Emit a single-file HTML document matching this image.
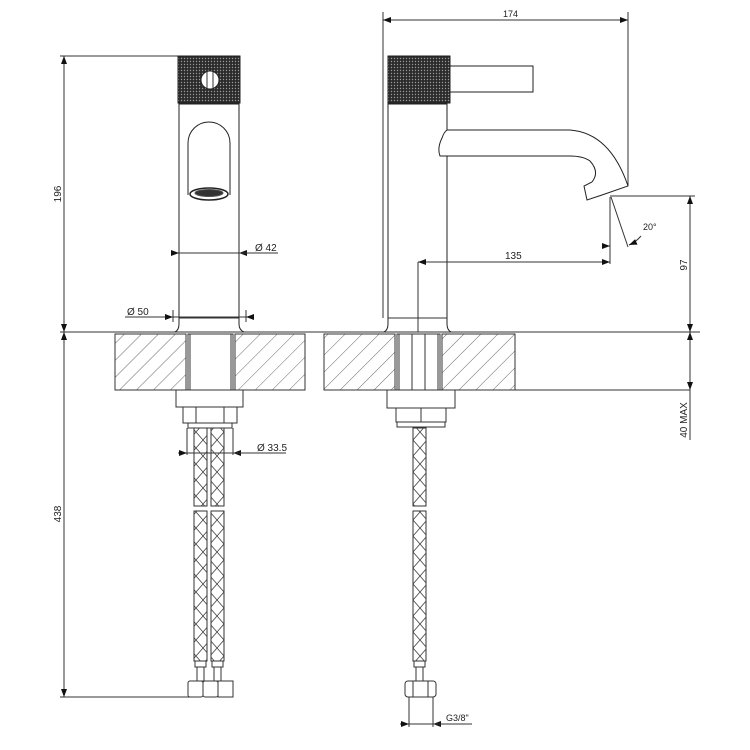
<!DOCTYPE html>
<html><head><meta charset="utf-8"><style>html,body{margin:0;padding:0;background:#fff}svg{display:block}text{font-family:"Liberation Sans",sans-serif;font-size:10px;fill:#222}</style></head><body>
<svg width="750" height="750" viewBox="0 0 750 750" xmlns="http://www.w3.org/2000/svg">
<defs>
<pattern id="knurl" width="3" height="3" patternUnits="userSpaceOnUse"><rect width="3" height="3" fill="#2a2a2a"/><circle cx="1.5" cy="1.5" r="0.7" fill="#9a9a9a"/></pattern>
<pattern id="hatch" width="12" height="12" patternUnits="userSpaceOnUse" patternTransform="rotate(45)"><line x1="0" y1="0" x2="0" y2="12" stroke="#444" stroke-width="0.8"/></pattern>
<pattern id="braid" width="14" height="16" patternUnits="userSpaceOnUse"><path d="M0 0L14 16M14 0L0 16" stroke="#444" stroke-width="0.8" fill="none"/></pattern>
<marker id="ar" markerWidth="8" markerHeight="6" refX="8" refY="3" orient="auto-start-reverse" markerUnits="userSpaceOnUse"><path d="M0 0L8 3L0 6z" fill="#111"/></marker>
</defs>
<g stroke="#333" stroke-width="1" fill="none">
<line x1="60" y1="56" x2="178" y2="56"/>
<line x1="60" y1="697" x2="190" y2="697"/>
<line x1="64" y1="56" x2="64" y2="332" marker-start="url(#ar)" marker-end="url(#ar)"/>
<line x1="64" y1="332" x2="64" y2="697" marker-start="url(#ar)" marker-end="url(#ar)"/>
<line x1="60" y1="332" x2="700" y2="332"/>
<rect x="178" y="56" width="62" height="47" fill="url(#knurl)" stroke="#222"/>
<circle cx="210" cy="80" r="9" fill="#fff" stroke="#222"/>
<line x1="207" y1="72" x2="207" y2="88"/><line x1="213" y1="72" x2="213" y2="88"/>
<rect x="179" y="104" width="60" height="214" stroke="#222"/>
<path d="M188 195 V143 A21 21 0 0 1 230 143 V195" stroke="#222"/>
<ellipse cx="209" cy="194" rx="19" ry="6" fill="#fff" stroke="#222" stroke-width="1.5"/>
<ellipse cx="209" cy="193" rx="14" ry="3.5" fill="#333" stroke="#555"/>
<path d="M179 318 V324 Q179 330 175 332 M239 318 V324 Q239 330 244 332" stroke="#222"/>
<line x1="179" y1="318" x2="239" y2="318"/>
<line x1="172" y1="253" x2="179" y2="253" marker-end="url(#ar)"/>
<line x1="179" y1="253" x2="239" y2="253"/>
<line x1="246" y1="253" x2="239" y2="253" marker-end="url(#ar)"/>
<line x1="239" y1="253" x2="278" y2="253"/>
<line x1="125" y1="317" x2="173" y2="317" marker-end="url(#ar)"/>
<line x1="173" y1="317" x2="246" y2="317"/>
<line x1="252" y1="317" x2="246" y2="317" marker-end="url(#ar)"/>
<line x1="173" y1="310" x2="173" y2="322"/><line x1="246" y1="310" x2="246" y2="322"/>
<path d="M115 334 H186 V390 H115 Z M235 334 H305 V390 H235 Z" fill="url(#hatch)" stroke="#333"/>
<path d="M324 334 H395 V390 H324 Z M442 334 H515 V390 H442 Z" fill="url(#hatch)" stroke="#333"/>
<rect x="188" y="334" width="45" height="56" fill="#fff"/>
<line x1="190" y1="334" x2="190" y2="390"/><line x1="231" y1="334" x2="231" y2="390"/>
<rect x="397" y="334" width="43" height="56" fill="#fff"/>
<line x1="399" y1="334" x2="399" y2="390"/><line x1="438" y1="334" x2="438" y2="390"/>
<line x1="412" y1="334" x2="412" y2="390"/><line x1="425" y1="334" x2="425" y2="390"/>
<line x1="515" y1="390" x2="690" y2="390"/>
<rect x="176" y="390" width="67" height="17"/>
<rect x="183" y="407" width="54" height="16"/>
<line x1="196" y1="407" x2="196" y2="423"/><line x1="224" y1="407" x2="224" y2="423"/>
<rect x="188" y="423" width="44" height="5"/>
<line x1="187" y1="428" x2="187" y2="455"/><line x1="233" y1="428" x2="233" y2="455"/>
<line x1="178" y1="453" x2="187" y2="453" marker-end="url(#ar)"/>
<line x1="187" y1="453" x2="233" y2="453"/>
<line x1="242" y1="453" x2="233" y2="453" marker-end="url(#ar)"/>
<line x1="233" y1="453" x2="286" y2="453"/>
<rect x="194" y="428" width="13" height="78" fill="url(#braid)"/>
<rect x="211" y="428" width="13" height="78" fill="url(#braid)"/>
<rect x="194" y="511" width="13" height="150" fill="url(#braid)"/>
<rect x="211" y="511" width="13" height="150" fill="url(#braid)"/>
<rect x="195" y="661" width="11" height="6"/><rect x="212" y="661" width="11" height="6"/>
<rect x="197" y="667" width="7" height="14"/><rect x="214" y="667" width="7" height="14"/>
<rect x="188" y="681" width="15" height="16" rx="2"/><rect x="203" y="681" width="15" height="16" rx="2"/><rect x="218" y="681" width="15" height="16"/>
<line x1="383" y1="12" x2="383" y2="318"/>
<line x1="628" y1="12" x2="628" y2="186"/>
<line x1="383" y1="20" x2="628" y2="20" marker-start="url(#ar)" marker-end="url(#ar)"/>
<rect x="388" y="56" width="62" height="47" fill="url(#knurl)" stroke="#222"/>
<path d="M450 66 H533 V92 H450" stroke="#222"/>
<rect x="388" y="104" width="59" height="214" stroke="#222"/>
<path d="M388 318 V324 Q388 330 384 332 M447 318 V324 Q447 330 451 332" stroke="#222"/>
<line x1="388" y1="318" x2="447" y2="318"/>
<path d="M447 130 H570 Q610 133 628 186 L602 195 L587 200 L584 186 L592 182 Q600 172 590 161 Q583 156 570 156 H440 Q437 148 442 138 Q444 132 447 130" fill="#fff" stroke="#222"/>
<line x1="418" y1="262" x2="418" y2="332"/>
<line x1="418" y1="262" x2="610" y2="262" marker-start="url(#ar)" marker-end="url(#ar)"/>
<line x1="610" y1="197" x2="610" y2="264"/>
<line x1="602" y1="246" x2="610" y2="246" marker-end="url(#ar)"/>
<line x1="611" y1="197" x2="628" y2="247"/>
<path d="M641 236 Q636 242 629 245" marker-end="url(#ar)"/>
<line x1="610" y1="196" x2="695" y2="196"/>
<line x1="690" y1="196" x2="690" y2="332" marker-start="url(#ar)" marker-end="url(#ar)"/>
<line x1="690" y1="332" x2="690" y2="390" marker-start="url(#ar)" marker-end="url(#ar)"/>
<line x1="690" y1="390" x2="690" y2="440"/>
<rect x="387" y="390" width="68" height="18"/>
<rect x="396" y="408" width="50" height="14"/>
<line x1="421" y1="408" x2="421" y2="422"/>
<rect x="397" y="422" width="48" height="5"/>
<rect x="413" y="428" width="13" height="78" fill="url(#braid)"/>
<rect x="413" y="511" width="13" height="150" fill="url(#braid)"/>
<rect x="414" y="661" width="11" height="6"/><rect x="416" y="667" width="7" height="14"/>
<rect x="405" y="681" width="31" height="16" rx="3"/>
<line x1="413" y1="681" x2="413" y2="697"/><line x1="428" y1="681" x2="428" y2="697"/>
<line x1="409" y1="697" x2="409" y2="727"/><line x1="433" y1="697" x2="433" y2="727"/>
<line x1="400" y1="724" x2="409" y2="724" marker-end="url(#ar)"/>
<line x1="409" y1="724" x2="433" y2="724"/>
<line x1="442" y1="724" x2="433" y2="724" marker-end="url(#ar)"/>
<line x1="433" y1="724" x2="472" y2="724"/>
</g>
<text x="503" y="17" style="font-size:9px">174</text>
<text x="255" y="251">Ø 42</text>
<text x="127" y="315">Ø 50</text>
<text x="257" y="451">Ø 33.5</text>
<text x="505" y="259">135</text>
<text x="643" y="230" style="font-size:9px">20°</text>
<text x="446" y="721" style="font-size:9px">G3/8"</text>
<text transform="translate(61,194) rotate(-90)" text-anchor="middle">196</text>
<text transform="translate(61,514) rotate(-90)" text-anchor="middle">438</text>
<text transform="translate(687,265) rotate(-90)" text-anchor="middle">97</text>
<text transform="translate(687,420) rotate(-90)" text-anchor="middle">40 MAX</text>
</svg>
</body></html>
